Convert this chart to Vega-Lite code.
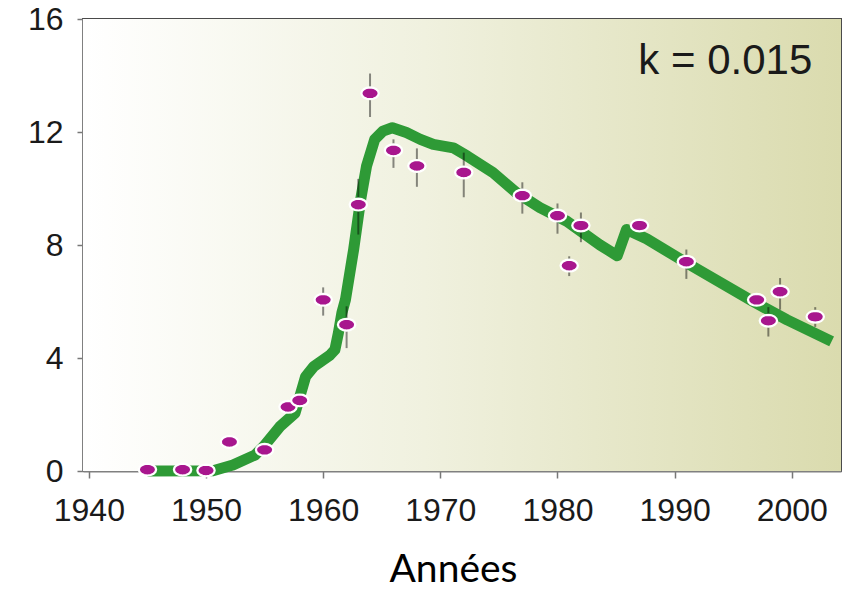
{
  "$schema": "https://vega.github.io/schema/vega-lite/v6.json",
  "width": 758,
  "height": 452,
  "autosize": {"type": "none"},
  "padding": {"left": 83, "top": 19, "right": 7, "bottom": 119},
  "background": "white",
  "config": {
    "view": {"stroke": "#4a4a4a", "strokeWidth": 2},
    "axis": {"grid": false, "labelFont": "Liberation Sans", "labelColor": "#1a1a1a"}
  },
  "datasets": {
    "model": [
      {"year": 1945.0, "value": 0.0},
      {"year": 1950.6, "value": 0.01},
      {"year": 1952.3, "value": 0.21},
      {"year": 1954.2, "value": 0.57},
      {"year": 1954.9, "value": 0.86},
      {"year": 1956.3, "value": 1.57},
      {"year": 1957.6, "value": 2.05},
      {"year": 1958.5, "value": 3.34},
      {"year": 1959.2, "value": 3.7},
      {"year": 1960.6, "value": 4.11},
      {"year": 1961.0, "value": 4.29},
      {"year": 1961.3, "value": 4.89},
      {"year": 1961.6, "value": 5.6},
      {"year": 1961.9, "value": 6.06},
      {"year": 1962.6, "value": 7.84},
      {"year": 1963.2, "value": 9.61},
      {"year": 1963.7, "value": 10.79},
      {"year": 1964.4, "value": 11.74},
      {"year": 1965.1, "value": 12.03},
      {"year": 1965.9, "value": 12.15},
      {"year": 1967.1, "value": 11.98},
      {"year": 1968.3, "value": 11.74},
      {"year": 1969.4, "value": 11.56},
      {"year": 1971.1, "value": 11.44},
      {"year": 1972.3, "value": 11.15},
      {"year": 1974.5, "value": 10.56},
      {"year": 1976.5, "value": 9.85},
      {"year": 1978.5, "value": 9.32},
      {"year": 1980.8, "value": 8.84},
      {"year": 1983.6, "value": 8.01},
      {"year": 1985.1, "value": 7.62},
      {"year": 1985.9, "value": 8.55},
      {"year": 1987.6, "value": 8.22},
      {"year": 1990.8, "value": 7.42},
      {"year": 1996.7, "value": 6.0},
      {"year": 1999.6, "value": 5.35},
      {"year": 2003.4, "value": 4.59}
    ],
    "obs": [
      {"year": 1945, "value": 0.05},
      {"year": 1948, "value": 0.05},
      {"year": 1950, "value": 0.02},
      {"year": 1952, "value": 1.03},
      {"year": 1955, "value": 0.75},
      {"year": 1957, "value": 2.27},
      {"year": 1958, "value": 2.5},
      {"year": 1960, "value": 6.06, "lo": 5.5, "hi": 6.5},
      {"year": 1962, "value": 5.18, "lo": 4.35, "hi": 5.83},
      {"year": 1963, "value": 9.43, "lo": 8.37, "hi": 10.34},
      {"year": 1964, "value": 13.37, "lo": 12.53, "hi": 14.07},
      {"year": 1966, "value": 11.35, "lo": 10.73, "hi": 11.74},
      {"year": 1968, "value": 10.8, "lo": 10.06, "hi": 11.42},
      {"year": 1972, "value": 10.57, "lo": 9.69, "hi": 11.27},
      {"year": 1977, "value": 9.75, "lo": 9.11, "hi": 10.22},
      {"year": 1980, "value": 9.04, "lo": 8.4, "hi": 9.47},
      {"year": 1981, "value": 7.27, "lo": 6.9, "hi": 7.6},
      {"year": 1982, "value": 8.69, "lo": 8.1, "hi": 9.15},
      {"year": 1987, "value": 8.69},
      {"year": 1991, "value": 7.41, "lo": 6.8, "hi": 7.84},
      {"year": 1997, "value": 6.06},
      {"year": 1998, "value": 5.32, "lo": 4.76, "hi": 5.8},
      {"year": 1999, "value": 6.35, "lo": 5.71, "hi": 6.83},
      {"year": 2002, "value": 5.46, "lo": 5.1, "hi": 5.8}
    ]
  },
  "layer": [
    {
      "data": {"values": [{}]},
      "mark": {
        "type": "rect",
        "color": {
          "gradient": "linear", "x1": 0, "y1": 0, "x2": 1, "y2": 0,
          "stops": [
            {"offset": 0, "color": "#ffffff"},
            {"offset": 0.45, "color": "#f0f1df"},
            {"offset": 1, "color": "#dadbae"}
          ]
        }
      },
      "encoding": {
        "x": {"datum": 1939.5, "type": "quantitative"},
        "x2": {"datum": 2004.2},
        "y": {"datum": 0, "type": "quantitative"},
        "y2": {"datum": 16}
      }
    },
    {
      "data": {"name": "model"},
      "mark": {"type": "line", "color": "#2e9a36", "strokeWidth": 11, "strokeJoin": "round", "strokeCap": "butt"},
      "encoding": {
        "x": {
          "field": "year", "type": "quantitative",
          "scale": {"domain": [1939.5, 2004.2], "nice": false, "zero": false},
          "axis": {
            "values": [1940, 1950, 1960, 1970, 1980, 1990, 2000],
            "format": "d",
            "labelFontSize": 32,
            "labelPadding": 17,
            "tickSize": 7,
            "tickColor": "#777777",
            "tickWidth": 1.5,
            "domainColor": "#808080",
            "domainWidth": 2,
            "title": "Années",
            "titleFont": "Lato",
            "titleFontSize": 39,
            "titleFontWeight": "normal",
            "titleColor": "#000000",
            "titleX": 370,
            "titleY": 110,
            "titleAlign": "center",
            "titleBaseline": "alphabetic"
          }
        },
        "y": {
          "field": "value", "type": "quantitative",
          "scale": {"domain": [0, 16], "nice": false},
          "axis": {
            "values": [0, 4, 8, 12, 16],
            "labelFontSize": 32,
            "labelPadding": 14,
            "tickSize": 6,
            "tickColor": "#777777",
            "tickWidth": 1.5,
            "domainColor": "#808080",
            "domainWidth": 3,
            "title": null
          }
        }
      }
    },
    {
      "data": {"name": "obs"},
      "mark": {"type": "rule", "color": "#000000", "opacity": 0.45, "strokeWidth": 2},
      "encoding": {
        "x": {"field": "year", "type": "quantitative"},
        "y": {"field": "lo", "type": "quantitative"},
        "y2": {"field": "hi"}
      }
    },
    {
      "data": {"name": "obs"},
      "mark": {
        "type": "point",
        "filled": true,
        "shape": "M1,0L0.924,0.26L0.707,0.481L0.383,0.628L0,0.68L-0.383,0.628L-0.707,0.481L-0.924,0.26L-1,0L-0.924,-0.26L-0.707,-0.481L-0.383,-0.628L0,-0.68L0.383,-0.628L0.707,-0.481L0.924,-0.26Z",
        "size": 300,
        "color": "#a8168e",
        "opacity": 1,
        "stroke": "#ffffff",
        "strokeWidth": 2.2
      },
      "encoding": {
        "x": {"field": "year", "type": "quantitative"},
        "y": {"field": "value", "type": "quantitative"}
      }
    },
    {
      "data": {"values": [{"label": "k = 0.015"}]},
      "mark": {"type": "text", "font": "Liberation Sans", "fontSize": 42, "align": "right", "baseline": "alphabetic", "color": "#1a1a1a"},
      "encoding": {
        "x": {"datum": 2001.75, "type": "quantitative"},
        "y": {"datum": 14.04, "type": "quantitative"},
        "text": {"field": "label"}
      }
    }
  ]
}
